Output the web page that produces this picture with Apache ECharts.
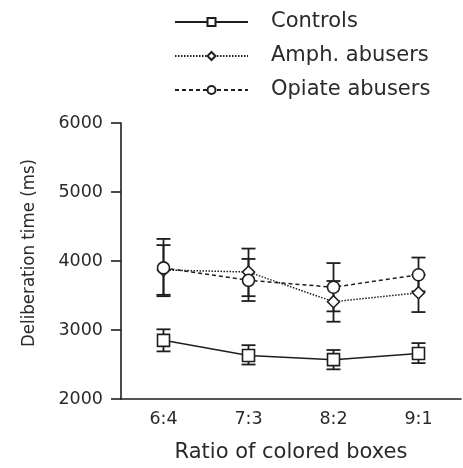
<!DOCTYPE html>
<html><head><meta charset="utf-8">
<script src="https://cdn.jsdelivr.net/npm/echarts@6/dist/echarts.min.js"></script>
<style>html,body{margin:0;padding:0;background:#fff}#c{width:463px;height:468px}</style>
</head><body><div id="c"></div>
<script>
var categories = ['6:4', '7:3', '8:2', '9:1'];
var yTicks = [2000, 3000, 4000, 5000, 6000];
var controls = [2850, 2630, 2570, 2660];
var controlsHi = [3010, 2780, 2710, 2810];
var controlsLo = [2690, 2500, 2430, 2520];
var amph = [3870, 3840, 3410, 3540];
var amphHi = [4230, 4180, 3710, 3800];
var amphLo = [3490, 3490, 3120, 3260];
var opiate = [3900, 3720, 3620, 3800];
var opiateHi = [4320, 4030, 3970, 4050];
var opiateLo = [3510, 3420, 3270, 3560];

var ink = '#1e1e1e';
var txt = '#2a2a2a';
var font = 'DejaVu Sans, Liberation Sans, sans-serif';
function errData(lo, hi) { return categories.map(function (c, i) { return [i, lo[i], hi[i]]; }); }
function errSeries(lo, hi) {
  return {
    type: 'custom', silent: true, z: 1,
    data: errData(lo, hi),
    encode: { x: 0, y: [1, 2] },
    renderItem: function (params, api) {
      var x = api.value(0);
      var lo = api.coord([x, api.value(1)]);
      var hi = api.coord([x, api.value(2)]);
      var w = 7;
      var st = { stroke: ink, lineWidth: 1.8 };
      return { type: 'group', children: [
        { type: 'line', shape: { x1: lo[0], y1: lo[1], x2: hi[0], y2: hi[1] }, style: st },
        { type: 'line', shape: { x1: lo[0] - w, y1: lo[1], x2: lo[0] + w, y2: lo[1] }, style: st },
        { type: 'line', shape: { x1: hi[0] - w, y1: hi[1], x2: hi[0] + w, y2: hi[1] }, style: st }
      ]};
    }
  };
}
function lineSeries(name, data, symbol, size, type) {
  return {
    name: name, type: 'line', data: data, symbol: symbol, symbolSize: size, z: 3,
    showAllSymbol: true,
    lineStyle: { color: ink, width: 1.5, type: type },
    itemStyle: { color: '#fff', borderColor: ink, borderWidth: 1.6 }
  };
}
var chart = echarts.init(document.getElementById('c'), null, { renderer: 'canvas' });
chart.setOption({
  animation: false,
  backgroundColor: '#fff',
  textStyle: { fontFamily: font },
  legend: {
    data: ['Controls', 'Amph. abusers', 'Opiate abusers'],
    orient: 'vertical', left: 169, top: 6, itemGap: 12,
    itemWidth: 73, itemHeight: 10,
    textStyle: { fontSize: 21, lineHeight: 22, color: txt, fontFamily: font, padding: [0, 0, 0, 18] }
  },
  grid: { left: 121, right: 2, top: 123, bottom: 65 },
  xAxis: {
    type: 'category', data: categories, boundaryGap: true,
    name: 'Ratio of colored boxes', nameLocation: 'middle', nameGap: 43,
    nameTextStyle: { fontSize: 21, color: txt, fontFamily: font },
    axisLine: { lineStyle: { color: ink, width: 1.6 } },
    axisTick: { alignWithLabel: true, length: 6, lineStyle: { color: ink, width: 1.6 } },
    axisLabel: { fontSize: 17.5, color: txt, margin: 11, fontFamily: font }
  },
  yAxis: {
    type: 'value', min: yTicks[0], max: yTicks[yTicks.length - 1], interval: 1000,
    name: 'Deliberation time (ms)', nameLocation: 'middle', nameGap: 82, nameRotate: 90,
    nameTextStyle: { fontSize: 18.5, color: txt, padding: [0, 0, 0, 16],
      fontFamily: 'Liberation Sans Narrow, DejaVu Sans Condensed, Liberation Sans, sans-serif' },
    axisLine: { show: true, lineStyle: { color: ink, width: 1.6 } },
    axisTick: { show: true, length: 10, lineStyle: { color: ink, width: 1.6 } },
    axisLabel: { fontSize: 17.5, color: txt, margin: 18, fontFamily: font,
      formatter: function (v) { return String(v); } },
    splitLine: { show: false }
  },
  series: [
    errSeries(controlsLo, controlsHi),
    errSeries(amphLo, amphHi),
    errSeries(opiateLo, opiateHi),
    lineSeries('Controls', controls, 'rect', 12, 'solid'),
    lineSeries('Amph. abusers', amph, 'diamond', 12, [1.5, 1.5]),
    lineSeries('Opiate abusers', opiate, 'circle', 12, [4, 3])
  ]
});
</script></body></html>
